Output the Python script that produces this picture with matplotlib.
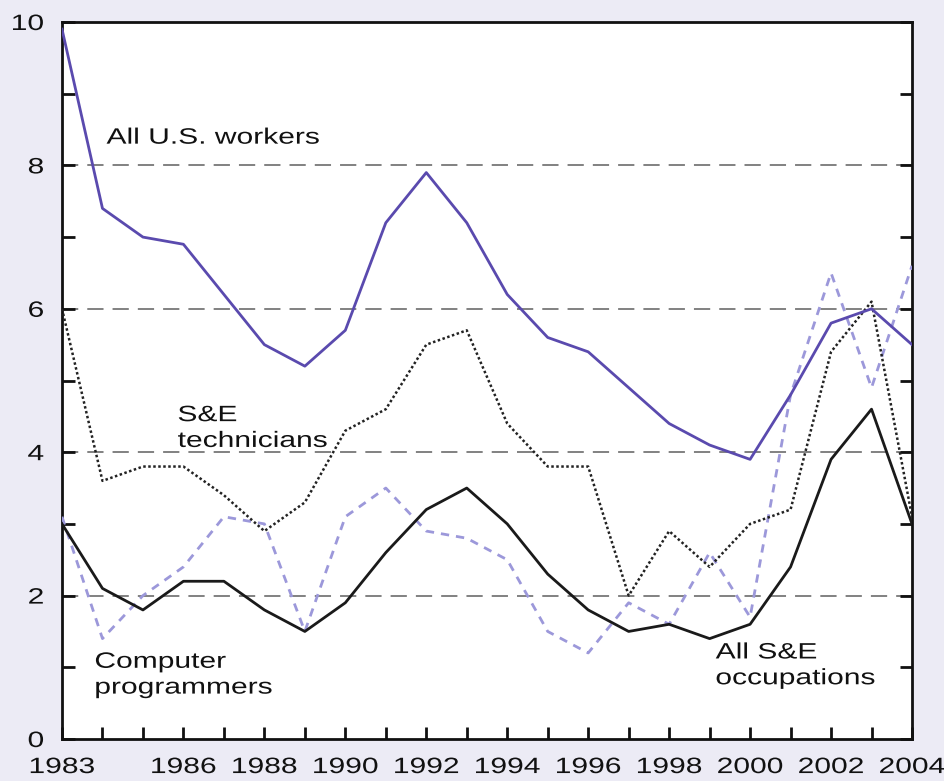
import matplotlib
matplotlib.use("Agg")
import matplotlib.pyplot as plt
from matplotlib.patheffects import AbstractPathEffect
from matplotlib.transforms import Affine2D

years = list(range(1983, 2005))
all_us_workers = [9.9, 7.4, 7.0, 6.9, 6.2, 5.5, 5.2, 5.7, 7.2, 7.9, 7.2, 6.2, 5.6, 5.4,
                  4.9, 4.4, 4.1, 3.9, 4.8, 5.8, 6.0, 5.5]
se_technicians = [6.0, 3.6, 3.8, 3.8, 3.4, 2.9, 3.3, 4.3, 4.6, 5.5, 5.7, 4.4, 3.8, 3.8,
                  2.0, 2.9, 2.4, 3.0, 3.2, 5.4, 6.1, 3.1]
computer_programmers = [3.1, 1.4, 2.0, 2.4, 3.1, 3.0, 1.5, 3.1, 3.5, 2.9, 2.8, 2.5, 1.5, 1.2,
                        1.9, 1.6, 2.6, 1.7, 4.8, 6.5, 4.9, 6.6]
all_se_occupations = [3.0, 2.1, 1.8, 2.2, 2.2, 1.8, 1.5, 1.9, 2.6, 3.2, 3.5, 3.0, 2.3, 1.8,
                      1.5, 1.6, 1.4, 1.6, 2.4, 3.9, 4.6, 3.0]
x_tick_labels = ["1983", "1986", "1988", "1990", "1992", "1994", "1996", "1998", "2000", "2002", "2004"]
x_tick_years = [1983, 1986, 1988, 1990, 1992, 1994, 1996, 1998, 2000, 2002, 2004]
y_tick_labels = ["0", "2", "4", "6", "8", "10"]


class HStretch(AbstractPathEffect):
    """Stretch glyphs horizontally around an anchor (the reference font is wide)."""
    def __init__(self, sx=1.35, anchor='left'):
        super().__init__()
        self.sx = sx
        self.anchor = anchor

    def draw_path(self, renderer, gc, tpath, affine, rgbFace=None):
        ext = tpath.get_extents(affine)
        if self.anchor == 'left':
            a = ext.x0
        elif self.anchor == 'right':
            a = ext.x1
        else:
            a = 0.5 * (ext.x0 + ext.x1)
        t = affine + Affine2D().translate(-a, 0).scale(self.sx, 1).translate(a, 0)
        renderer.draw_path(gc, tpath, t, rgbFace)


plt.rcParams['font.family'] = ['Liberation Sans', 'DejaVu Sans']

SX = 1.35
bg = '#ECEBF5'
fig = plt.figure(figsize=(9.45, 7.81), dpi=100, facecolor=bg)
ax = fig.add_axes([62/945, 1 - 739/781, (912-62)/945, (739-22)/781])
ax.set_facecolor('white')

for yv in [2, 4, 6, 8]:
    ax.axhline(yv, color='#777777', lw=1.3, ls=(0, (9, 5)), zorder=1)

ax.plot(years, computer_programmers, color='#9C98DA', lw=2.0, ls=(0, (3, 2.5)), zorder=3)
ax.plot(years, se_technicians, color='#222222', lw=1.8, ls=(0, (1, 1)), zorder=3)
ax.plot(years, all_se_occupations, color='#1a1a1a', lw=2.0, zorder=4)
ax.plot(years, all_us_workers, color='#5A4AAE', lw=2.0, zorder=4)

ax.set_xlim(1983, 2004)
ax.set_ylim(0, 10)
ax.set_xticks(years)
lab_map = dict(zip(x_tick_years, x_tick_labels))
ax.set_xticklabels([lab_map.get(y, "") for y in years])
ax.set_yticks(range(0, 11))
y_map = {int(s): s for s in y_tick_labels}
ax.set_yticklabels([y_map.get(v, "") for v in range(0, 11)])
ax.tick_params(axis='both', direction='in', length=9, width=2, labelsize=16,
               colors='#111111')
ax.tick_params(axis='y', right=True, left=True, pad=13)
ax.tick_params(axis='x', pad=13)
for lbl in ax.get_xticklabels():
    lbl.set_path_effects([HStretch(SX, 'center')])
for lbl in ax.get_yticklabels():
    lbl.set_path_effects([HStretch(SX, 'right')])
for s in ax.spines.values():
    s.set_linewidth(2)
    s.set_color('#111111')

fs = 16
pe = [HStretch(SX, 'left')]
ax.text(1984.1, 8.38, "All U.S. workers", fontsize=fs, va='center', ha='left', color='#111111',
        path_effects=pe)
ax.text(1985.86, 4.33, "S&E\ntechnicians", fontsize=fs, va='center', ha='left', color='#111111',
        linespacing=1.3, path_effects=pe)
ax.text(1983.81, 0.89, "Computer\nprogrammers", fontsize=fs, va='center', ha='left', color='#111111',
        linespacing=1.3, path_effects=pe)
ax.text(1999.15, 1.02, "All S&E\noccupations", fontsize=fs, va='center', ha='left', color='#111111',
        linespacing=1.3, path_effects=pe)

fig.savefig("out.png", dpi=100, facecolor=bg)
